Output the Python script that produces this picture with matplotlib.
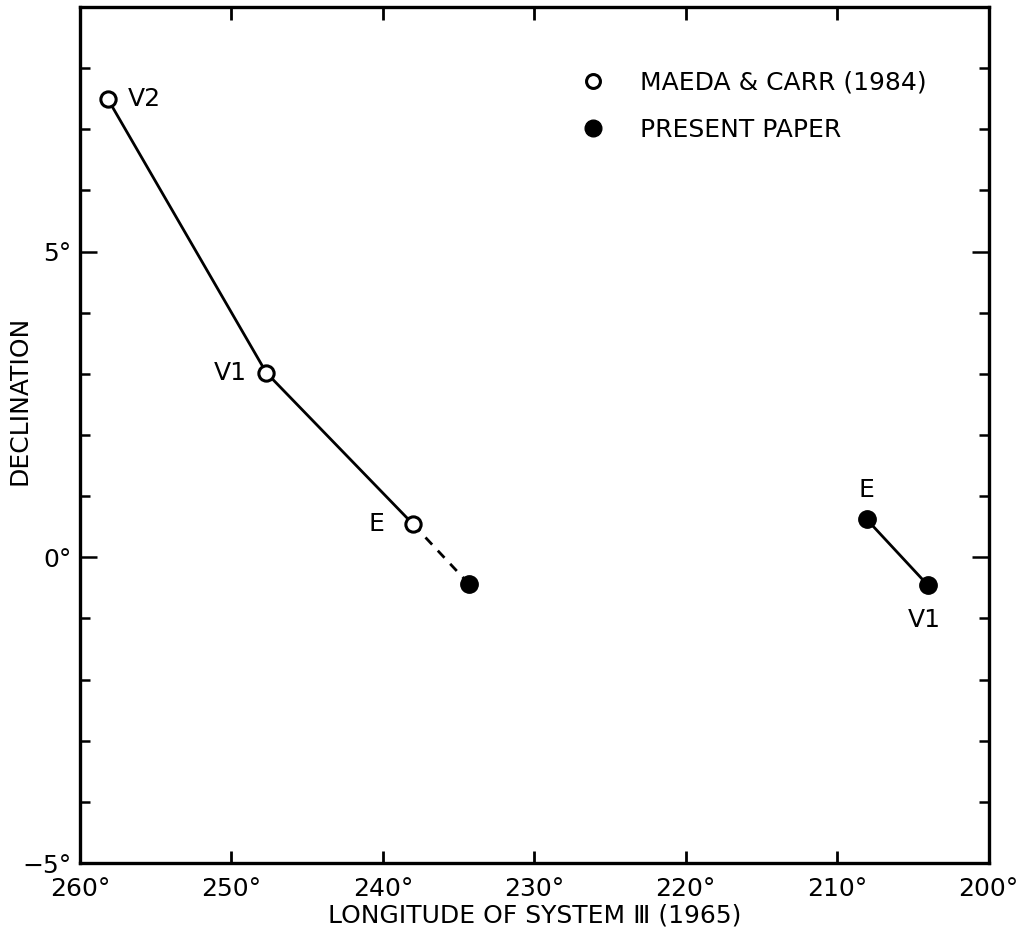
import numpy as np
import matplotlib
matplotlib.use('Agg')
import matplotlib.pyplot as plt
from matplotlib.ticker import MultipleLocator, FixedLocator
from matplotlib.lines import Line2D

# values (longitude of system III, declination in deg)
maeda_lon = [258.15, 247.7, 238.0]
maeda_dec = [7.49, 3.02, 0.54]
maeda_lab = ['V2', 'V1', 'E']

present_lon = [234.3, 208.05, 204.0]
present_dec = [-0.44, 0.62, -0.46]
present_lab = ['', 'E', 'V1']

xticks = [260, 250, 240, 230, 220, 210, 200]
yticks = [-5, 0, 5]

plt.rcParams['font.family'] = 'DejaVu Sans'
plt.rcParams['font.size'] = 18

fig = plt.figure(figsize=(10.32, 9.43), dpi=100)
ax = fig.add_axes([0.0775, 0.0848, 0.8805, 0.9078])

# Maeda & Carr points joined by a solid line
ax.plot(maeda_lon, maeda_dec, color='k', lw=2, zorder=2)
# dashed link from Maeda E to present point
ax.plot([maeda_lon[2], present_lon[0]], [maeda_dec[2], present_dec[0]],
        color='k', lw=2, ls=(0, (3.5, 3)), zorder=2)
# present paper E - V1
ax.plot(present_lon[1:], present_dec[1:], color='k', lw=2, zorder=2)

ax.plot(maeda_lon, maeda_dec, ls='none', marker='o', ms=11, mfc='white',
        mec='k', mew=2.2, zorder=3)
ax.plot(present_lon, present_dec, ls='none', marker='o', ms=12.5, mfc='k',
        mec='k', zorder=3)

# point labels
ax.annotate(maeda_lab[0], (maeda_lon[0], maeda_dec[0]), xytext=(14, 0),
            textcoords='offset points', ha='left', va='center')
ax.annotate(maeda_lab[1], (maeda_lon[1], maeda_dec[1]), xytext=(-14, 0),
            textcoords='offset points', ha='right', va='center')
ax.annotate(maeda_lab[2], (maeda_lon[2], maeda_dec[2]), xytext=(-21, 0),
            textcoords='offset points', ha='right', va='center')
ax.annotate(present_lab[1], (present_lon[1], present_dec[1]), xytext=(0, 21),
            textcoords='offset points', ha='center', va='center')
ax.annotate(present_lab[2], (present_lon[2], present_dec[2]), xytext=(-3, -25),
            textcoords='offset points', ha='center', va='center')

ax.set_xlim(260, 200)
ax.set_ylim(-5, 9)

ax.xaxis.set_major_locator(FixedLocator(xticks))
ax.set_xticklabels([f'{t}°' for t in xticks])
ax.yaxis.set_major_locator(FixedLocator(yticks))
ax.set_yticklabels(['\u22125°', '0°', '5°'])
ax.yaxis.set_minor_locator(MultipleLocator(1))

ax.tick_params(axis='x', which='major', direction='in', length=9, width=2,
               top=True, pad=10)
ax.tick_params(axis='y', which='major', direction='in', length=12, width=1.8,
               right=True, pad=6)
ax.tick_params(axis='y', which='minor', direction='in', length=7, width=1.8,
               right=True)
for s in ax.spines.values():
    s.set_linewidth(2.4)

ax.set_xlabel('LONGITUDE OF SYSTEM \u2162 (1965)', labelpad=2)
fig.text(20 / 1032, 1 - 400 / 943, 'DECLINATION', rotation=90,
         ha='center', va='center')

handles = [
    Line2D([], [], ls='none', marker='o', ms=10, mfc='white', mec='k', mew=2.2),
    Line2D([], [], ls='none', marker='o', ms=12, mfc='k', mec='k'),
]
ax.legend(handles, ['MAEDA & CARR (1984)', 'PRESENT PAPER'], frameon=False,
          loc='upper left', bbox_to_anchor=(0.512, 0.952), handletextpad=0.9,
          labelspacing=0.92)

fig.savefig('out.png', dpi=100)
